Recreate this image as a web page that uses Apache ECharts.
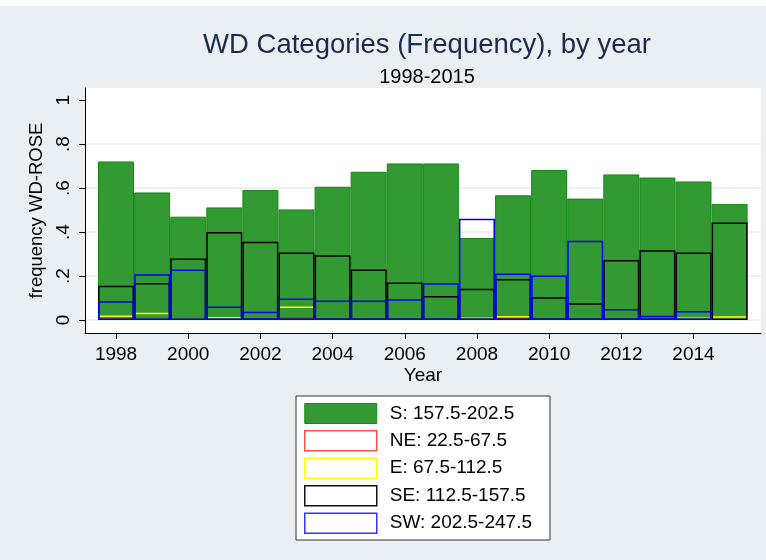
<!DOCTYPE html>
<html>
<head>
<meta charset="utf-8">
<script src="https://cdn.jsdelivr.net/npm/echarts@6/dist/echarts.min.js"></script>
<style>
    html, body { margin: 0; padding: 0; background: #e9eff2; }
    #chart { width: 766px; height: 560px; }
</style>
</head>
<body>
<div id="chart"></div>
<script>
// values (frequency per year)
const years = [1998, 1999, 2000, 2001, 2002, 2003, 2004, 2005, 2006, 2007, 2008, 2009, 2010, 2011, 2012, 2013, 2014, 2015];
const sFreq  = [0.721, 0.580, 0.470, 0.512, 0.591, 0.503, 0.606, 0.674, 0.712, 0.712, 0.373, 0.567, 0.682, 0.552, 0.662, 0.648, 0.630, 0.527];
const neFreq = [null, null, null, null, null, 0.012, null, null, null, null, null, 0.008, null, null, null, null, null, null];
const eFreq  = [0.021, 0.033, 0.008, 0.014, null, 0.061, null, null, null, null, 0.012, 0.018, null, null, null, null, 0.011, 0.017];
const seFreq = [0.156, 0.168, 0.280, 0.400, 0.356, 0.307, 0.294, 0.230, 0.171, 0.109, 0.142, 0.186, 0.103, 0.076, 0.273, 0.317, 0.307, 0.444];
const swFreq = [0.085, 0.208, 0.230, 0.061, 0.038, 0.098, 0.089, 0.089, 0.094, 0.167, 0.461, 0.211, 0.202, 0.361, 0.050, 0.020, 0.041, null];
const yTicks = [0, 0.2, 0.4, 0.6, 0.8, 1];
const xTicks = [1998, 2000, 2002, 2004, 2006, 2008, 2010, 2012, 2014];

const font = 'Arial, "Liberation Sans", sans-serif';
const chart = echarts.init(document.getElementById('chart'));

const pairs = (arr) => years.map((y, i) => [y, arr[i]]);

const outline = (name, arr, color) => ({
    name: name,
    type: 'bar',
    data: pairs(arr),
    barWidth: 36,
    barGap: '-100%',
    itemStyle: { color: 'rgba(0,0,0,0)', borderColor: color, borderWidth: 1.5 },
    emphasis: { disabled: true }
});

const fmtY = (v) => {
    if (v === 0) return '0';
    if (v === 1) return '1';
    return String(Math.round(v * 10) / 10).replace(/^0/, '');
};

const option = {
    backgroundColor: '#e9eff2',
    animation: false,
    title: [
        {
            text: 'WD Categories (Frequency), by year',
            left: 422, top: 26, textAlign: 'center',
            textStyle: { fontFamily: font, fontSize: 27.5, fontWeight: 'normal', color: '#1c2a4c' }
        },
        {
            text: '1998-2015',
            left: 422, top: 62, textAlign: 'center',
            textStyle: { fontFamily: font, fontSize: 20, fontWeight: 'normal', color: '#000' }
        }
    ],
    graphic: [
        { type: 'rect', left: 0, top: 0, shape: { width: 766, height: 6 }, style: { fill: '#fff' } }
    ],
    grid: {
        left: 85, top: 88, width: 676, height: 245,
        show: true, backgroundColor: '#fff', borderWidth: 0
    },
    legend: {
        orient: 'vertical',
        left: 296, top: 396,
        padding: [7, 18, 6, 8],
        backgroundColor: '#fff',
        borderColor: '#333',
        borderWidth: 1,
        itemWidth: 72,
        itemHeight: 20,
        itemGap: 6,
        selectedMode: false,
        textStyle: { fontFamily: font, fontSize: 19, lineHeight: 20, color: '#000', padding: [0, 0, 0, 8] },
        data: [
            { name: 'S: 157.5-202.5', icon: 'rect', itemStyle: { color: '#339933', borderColor: '#1a8a1a', borderWidth: 1 } },
            { name: 'NE: 22.5-67.5', icon: 'rect', itemStyle: { color: '#fff', borderColor: '#ff5050', borderWidth: 1.5 } },
            { name: 'E: 67.5-112.5', icon: 'rect', itemStyle: { color: '#fff', borderColor: '#ffff00', borderWidth: 1.5 } },
            { name: 'SE: 112.5-157.5', icon: 'rect', itemStyle: { color: '#fff', borderColor: '#111', borderWidth: 1.5 } },
            { name: 'SW: 202.5-247.5', icon: 'rect', itemStyle: { color: '#fff', borderColor: '#3333ff', borderWidth: 1.5 } }
        ]
    },
    xAxis: {
        type: 'value',
        min: 1997.14,
        max: 2015.87,
        name: 'Year',
        nameLocation: 'middle',
        nameGap: 33,
        nameTextStyle: { fontFamily: font, fontSize: 19, color: '#000' },
        axisLine: { show: true, onZero: false, lineStyle: { color: '#000', width: 1 } },
        axisTick: { show: true, length: 6, customValues: xTicks, lineStyle: { color: '#000' } },
        axisLabel: {
            customValues: xTicks,
            margin: 12,
            fontFamily: font, fontSize: 19, color: '#000',
            formatter: (v) => String(v)
        },
        splitLine: { show: false }
    },
    yAxis: {
        type: 'value',
        min: -0.059,
        max: 1.055,
        name: 'frequency WD-ROSE',
        nameLocation: 'middle',
        nameGap: 30,
        nameTextStyle: { fontFamily: font, fontSize: 18.5, color: '#000' },
        axisLine: { show: true, onZero: false, lineStyle: { color: '#000', width: 1 } },
        axisTick: { show: true, length: 6, customValues: yTicks, lineStyle: { color: '#000' } },
        axisLabel: {
            customValues: yTicks,
            rotate: 90,
            margin: 12,
            fontFamily: font, fontSize: 19, color: '#000',
            formatter: fmtY
        },
        splitLine: {
            show: true,
            lineStyle: { color: ['#e4ecf0', '#e4ecf0', '#e4ecf0', '#e4ecf0', '#e4ecf0', 'rgba(0,0,0,0)'], width: 1.5 }
        }
    },
    series: [
        {
            name: 'S: 157.5-202.5',
            type: 'bar',
            data: pairs(sFreq),
            barWidth: 36,
            barGap: '-100%',
            itemStyle: { color: '#339933', borderColor: '#138a13', borderWidth: 1 },
            emphasis: { disabled: true }
        },
        outline('NE: 22.5-67.5', neFreq, '#ff0000'),
        outline('E: 67.5-112.5', eFreq, '#ffff00'),
        outline('SE: 112.5-157.5', seFreq, '#000000'),
        outline('SW: 202.5-247.5', swFreq, '#0000ff')
    ]
};

chart.setOption(option);
</script>
</body>
</html>
